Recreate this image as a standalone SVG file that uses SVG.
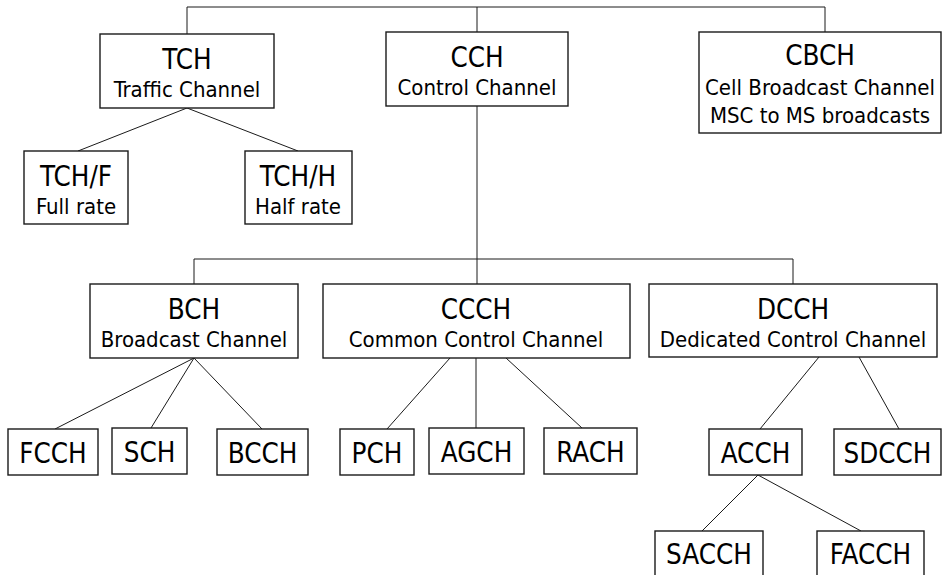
<svg xmlns="http://www.w3.org/2000/svg" width="942" height="575" viewBox="0 0 942 575">
<style>
rect{fill:#fff;stroke:#1a1a1a;stroke-width:1.4}
text{font-family:"DejaVu Sans Condensed","DejaVu Sans",sans-serif;font-stretch:condensed;fill:#000;text-anchor:middle}
.t{font-size:27.5px}
.s{font-size:22px}
#connectors line,#connectors polyline{stroke:#1a1a1a;stroke-width:1;fill:none}
</style>
<rect x="0" y="0" width="942" height="575" style="fill:#fff;stroke:none"/>
<g id="connectors">
<polyline points="187,34 187,7 825,7 825,32"/>
<line x1="477" y1="7" x2="477" y2="32"/>
<line x1="187" y1="108" x2="78" y2="151"/>
<line x1="187" y1="108" x2="298" y2="151"/>
<line x1="477" y1="106" x2="477" y2="284"/>
<polyline points="194,284 194,259 793,259 793,284"/>
<line x1="194" y1="358" x2="55" y2="429"/>
<line x1="194" y1="358" x2="151" y2="428"/>
<line x1="194" y1="358" x2="262" y2="429"/>
<line x1="450" y1="358" x2="387" y2="429"/>
<line x1="476" y1="358" x2="476" y2="428"/>
<line x1="506" y1="358" x2="582" y2="428"/>
<line x1="819" y1="357" x2="760" y2="429"/>
<line x1="859" y1="357" x2="899" y2="429"/>
<line x1="758" y1="475" x2="702" y2="531"/>
<line x1="758" y1="475" x2="861" y2="531"/>
</g>
<g id="TCH"><rect x="100" y="34" width="174" height="74"/><text class="t" x="187" y="69">TCH</text><text class="s" x="187" y="97">Traffic Channel</text></g>
<g id="CCH"><rect x="386" y="32" width="182" height="74"/><text class="t" x="477" y="67">CCH</text><text class="s" x="477" y="95">Control Channel</text></g>
<g id="CBCH"><rect x="699" y="32" width="242" height="101"/><text class="t" x="820" y="65">CBCH</text><text class="s" x="820" y="95">Cell Broadcast Channel</text><text class="s" x="820" y="123">MSC to MS broadcasts</text></g>
<g id="TCHF"><rect x="24" y="151" width="104" height="73"/><text class="t" x="76" y="186">TCH/F</text><text class="s" x="76" y="214">Full rate</text></g>
<g id="TCHH"><rect x="245" y="151" width="107" height="73"/><text class="t" x="298" y="186">TCH/H</text><text class="s" x="298" y="214">Half rate</text></g>
<g id="BCH"><rect x="90" y="284" width="208" height="74"/><text class="t" x="194" y="319">BCH</text><text class="s" x="194" y="347">Broadcast Channel</text></g>
<g id="CCCH"><rect x="323" y="284" width="307" height="74"/><text class="t" x="476" y="319">CCCH</text><text class="s" x="476" y="347">Common Control Channel</text></g>
<g id="DCCH"><rect x="649" y="284" width="288" height="73"/><text class="t" x="793" y="319">DCCH</text><text class="s" x="793" y="347">Dedicated Control Channel</text></g>
<g id="FCCH"><rect x="8" y="429" width="90" height="46"/><text class="t" x="53" y="463">FCCH</text></g>
<g id="SCH"><rect x="112" y="428" width="75" height="46"/><text class="t" x="149.5" y="462">SCH</text></g>
<g id="BCCH"><rect x="217" y="429" width="91" height="46"/><text class="t" x="262.5" y="463">BCCH</text></g>
<g id="PCH"><rect x="340" y="429" width="74" height="46"/><text class="t" x="377" y="463">PCH</text></g>
<g id="AGCH"><rect x="429" y="428" width="95" height="46"/><text class="t" x="476.5" y="462">AGCH</text></g>
<g id="RACH"><rect x="544" y="428" width="93" height="46"/><text class="t" x="590.5" y="462">RACH</text></g>
<g id="ACCH"><rect x="709" y="429" width="93" height="46"/><text class="t" x="755.5" y="463">ACCH</text></g>
<g id="SDCCH"><rect x="834" y="429" width="107" height="46"/><text class="t" x="887.5" y="463">SDCCH</text></g>
<g id="SACCH"><rect x="655" y="531" width="108" height="60"/><text class="t" x="709" y="564">SACCH</text></g>
<g id="FACCH"><rect x="817" y="531" width="107" height="60"/><text class="t" x="870.5" y="564">FACCH</text></g>
</svg>
